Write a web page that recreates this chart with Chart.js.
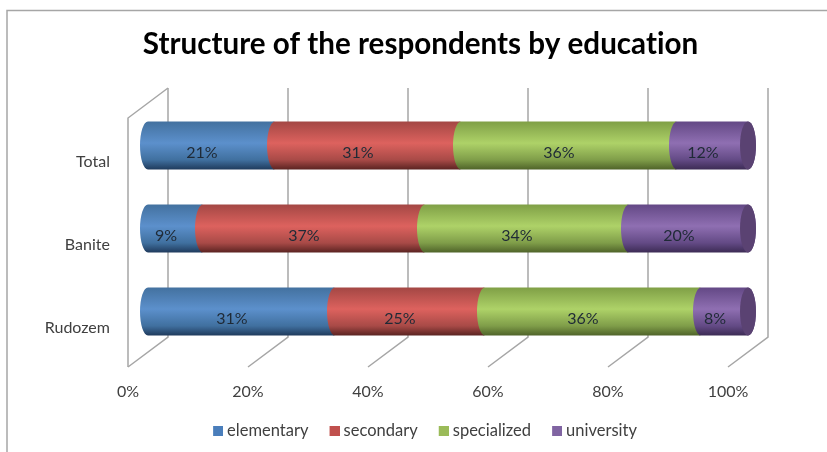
<!DOCTYPE html>
<html>
<head>
<meta charset="utf-8">
<title>Structure of the respondents by education</title>
<script src="https://cdn.jsdelivr.net/npm/chart.js@4"></script>
<style>
    html, body { margin: 0; padding: 0; background: #fff; }
    #wrap { position: relative; width: 827px; height: 452px; }
    #chart { filter: blur(0.4px); }
</style>
</head>
<body>
<div id="wrap"><canvas id="chart" width="827" height="452"></canvas></div>
<script>
const categories = ["Total", "Banite", "Rudozem"];
const seriesNames = ["elementary", "secondary", "specialized", "university"];
const elementary = [21, 9, 31];
const secondary = [31, 37, 25];
const specialized = [36, 34, 36];
const university = [12, 20, 8];
const xTicks = [0, 20, 40, 60, 80, 100];

const swatches = ["#4a7ebb", "#c0504d", "#9bbb59", "#8064a2"];
// top edge, highlight, lower, bottom edge of each cylinder
const shades = [
    ["#43719f", "#5c90cc", "#40709f", "#1f3a5c"],
    ["#a34744", "#dd625e", "#a84a47", "#5a2321"],
    ["#7f9f46", "#aed268", "#7f9d49", "#4f6329"],
    ["#634885", "#8f6fb2", "#634a85", "#3c2b54"]
];
const capColor = "#5a4272";
const gridColor = "#a6a6a6";
const textColor = "#404040";

// how far the back wall sits behind the front plane
const depthX = 40, depthY = -30;
const plotBottom = 367;

function cylinderFill(ctx, top, bottom, c) {
    const g = ctx.createLinearGradient(0, top, 0, bottom);
    g.addColorStop(0, c[0]);
    g.addColorStop(0.45, c[1]);
    g.addColorStop(0.8, c[2]);
    g.addColorStop(1, c[3]);
    return g;
}

// legend swatch with empty room on its left, the legend puts text too far off otherwise
function swatch(color) {
    const c = document.createElement("canvas");
    c.width = 16;
    c.height = 10;
    const g = c.getContext("2d");
    g.fillStyle = color;
    g.fillRect(6, 0, 10, 10);
    return c;
}

const wallsAndFrame = {
    id: "wallsAndFrame",
    afterLayout(chart) {
        // title and legend are centred on their own spots, not on the plot
        const t = chart.titleBlock, l = chart.legend;
        t.left = 0; t.right = 841;
        l.left = 0; l.right = 848;
        l.top = 403.5; l.bottom = 452;
    },
    beforeDraw(chart) {
        // no "ti" ligature in the title
        chart.ctx.letterSpacing = "0.01px";
    },
    beforeDatasetsDraw(chart) {
        const { ctx, scales: { x }, chartArea: a } = chart;
        ctx.save();
        ctx.strokeStyle = gridColor;
        ctx.lineWidth = 1.5;

        // sheet frame
        ctx.beginPath();
        ctx.moveTo(7, 452);
        ctx.lineTo(7, 10.5);
        ctx.lineTo(827, 10.5);
        ctx.stroke();

        xTicks.forEach(v => {
            const px = x.getPixelForValue(v);
            ctx.beginPath();
            ctx.moveTo(px, a.bottom);
            ctx.lineTo(px + depthX, a.bottom + depthY);
            ctx.lineTo(px + depthX, a.top + depthY);
            ctx.stroke();
        });

        // left side wall
        ctx.beginPath();
        ctx.moveTo(a.left + depthX, a.top + depthY);
        ctx.lineTo(a.left, a.top);
        ctx.lineTo(a.left, a.bottom);
        ctx.stroke();
        ctx.restore();
    },
    // cylinders sit half way into the depth of the chart
    beforeDatasetDraw(chart, args) {
        const { ctx } = chart;
        const meta = args.meta;
        const c = shades[args.index];
        const last = args.index === seriesNames.length - 1;
        const dx = depthX / 2, dy = -14;
        meta.data.forEach(bar => {
            const p = bar.getProps(["x", "y", "base", "height"], true);
            const top = p.y - p.height / 2 + dy;
            const bottom = p.y + p.height / 2 + dy;
            const mid = (top + bottom) / 2;
            const ry = p.height / 2;
            const rx = 8;
            const x0 = p.base + dx, x1 = p.x + dx;
            ctx.save();
            ctx.fillStyle = cylinderFill(ctx, top, bottom, c);
            ctx.beginPath();
            ctx.moveTo(x0, top);
            ctx.ellipse(x0, mid, rx, ry, 0, -Math.PI / 2, -Math.PI * 1.5, true);
            if (last) {
                ctx.lineTo(x1, bottom);
                ctx.ellipse(x1, mid, rx, ry, 0, Math.PI / 2, -Math.PI / 2, true);
            } else {
                // run a pixel under the next segment so the seam does not show
                ctx.lineTo(x1 + 1, bottom);
                ctx.ellipse(x1 + 1, mid, rx, ry, 0, Math.PI / 2, Math.PI * 1.5, false);
            }
            ctx.closePath();
            ctx.fill();
            if (last) {
                ctx.fillStyle = capColor;
                ctx.beginPath();
                ctx.ellipse(x1, mid, rx, ry, 0, 0, Math.PI * 2);
                ctx.fill();
            }
            ctx.restore();
        });
        return false;
    },
    afterDatasetsDraw(chart) {
        const { ctx } = chart;
        ctx.save();
        ctx.font = "16px Lato";
        ctx.fillStyle = "#1f2a36";
        ctx.textAlign = "center";
        ctx.textBaseline = "middle";
        chart.data.datasets.forEach((ds, i) => {
            chart.getDatasetMeta(i).data.forEach((bar, j) => {
                const p = bar.getProps(["x", "y", "base"], true);
                ctx.fillText(ds.data[j] + "%", (p.base + p.x) / 2 + 11, p.y - 14 + 7);
            });
        });
        ctx.restore();
    }
};

new Chart(document.getElementById("chart"), {
    type: "bar",
    plugins: [wallsAndFrame],
    data: {
        labels: categories,
        datasets: [elementary, secondary, specialized, university].map((values, i) => ({
            label: seriesNames[i],
            data: values,
            backgroundColor: swatches[i],
            categoryPercentage: 1,
            barPercentage: 0.58
        }))
    },
    options: {
        indexAxis: "y",
        responsive: false,
        animation: false,
        layout: { padding: { left: 0, right: 99, top: 0, bottom: 0 } },
        plugins: {
            title: {
                display: true,
                text: "Structure of the respondents by education",
                color: "#000",
                font: { family: "Lato", size: 29.6, weight: "bold", lineHeight: 1.2 },
                padding: { top: 26.5, bottom: 56 }
            },
            legend: {
                position: "bottom",
                labels: {
                    color: textColor,
                    usePointStyle: true,
                    boxWidth: 7.5,
                    boxHeight: 10,
                    padding: 19.25,
                    font: { family: "Lato", size: 16.5 },
                    generateLabels: chart =>
                        Chart.defaults.plugins.legend.labels.generateLabels(chart).map((item, i) => ({
                            ...item,
                            pointStyle: swatch(swatches[i])
                        }))
                }
            },
            tooltip: { enabled: false }
        },
        scales: {
            x: {
                stacked: true,
                min: 0,
                max: 100,
                afterBuildTicks: axis => { axis.ticks = xTicks.map(value => ({ value })); },
                afterFit: axis => { axis.height = 452 - plotBottom - axis.chart.legend.height; },
                grid: { display: false },
                border: { display: false },
                ticks: {
                    color: textColor,
                    padding: 7,
                    maxRotation: 0,
                    font: { family: "Lato", size: 16 },
                    callback: v => v + "%"
                }
            },
            y: {
                stacked: true,
                afterFit: axis => { axis.width = 128; },
                grid: { display: false },
                border: { display: false },
                ticks: {
                    color: textColor,
                    padding: 10,
                    labelOffset: 2.5,
                    font: { family: "Lato", size: 16 }
                }
            }
        }
    }
});
</script>
</body>
</html>
